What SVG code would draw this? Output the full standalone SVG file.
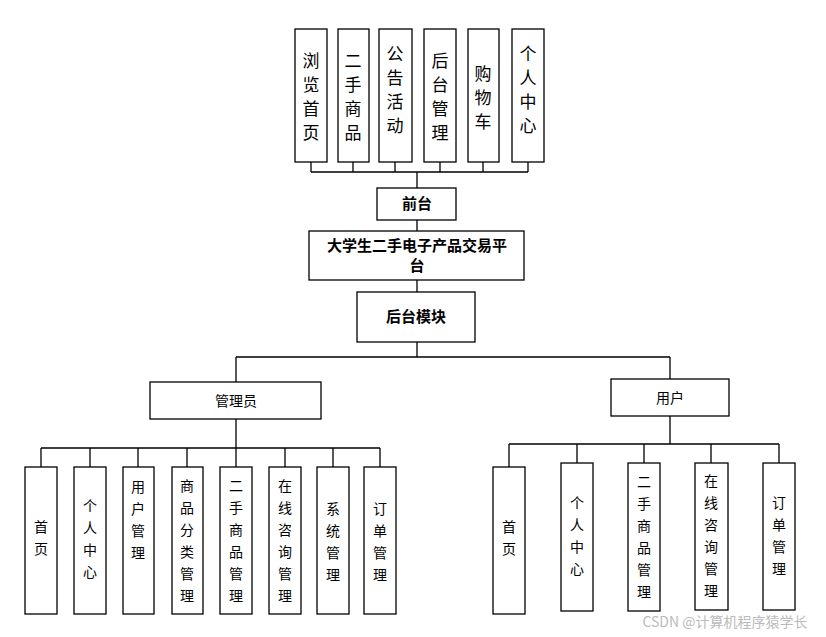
<svg xmlns="http://www.w3.org/2000/svg" width="826" height="637" viewBox="0 0 826 637">
<style>
rect{fill:#fff;stroke:#000;stroke-width:1.3}
text{font-family:"Noto Sans CJK SC","Liberation Sans",sans-serif;fill:#000;text-anchor:middle}
.t{font-size:17px}.b{font-size:15px;font-weight:bold}.s{font-size:14px}
#conn path{fill:none;stroke:#000;stroke-width:1.3}
</style>
<rect x="0" y="0" width="826" height="637" style="stroke:none"/>
<g id="conn"><path d="M311 162V172M353 162V172M395 162V172M440 162V172M483 162V172M528 162V172M311 172H528M417 172V188M417 220V231M417 280V292M417 342V357M236 357H670M236 357V382M670 357V379M236 419V448M41 448H380M41 448V467M90 448V467M138 448V467M187 448V467M236 448V467M285 448V467M333 448V467M380 448V467M670 416V444M509 444H779M509 444V467M577 444V463M644 444V463M711 444V463M779 444V463"/></g>
<g id="f1"><rect x="295" y="29" width="32" height="133"/><text class="t"><tspan x="311" y="67">浏</tspan><tspan x="311" y="91">览</tspan><tspan x="311" y="115">首</tspan><tspan x="311" y="139">页</tspan></text></g>
<g id="f2"><rect x="338" y="29" width="31" height="133"/><text class="t"><tspan x="353" y="67">二</tspan><tspan x="353" y="91">手</tspan><tspan x="353" y="115">商</tspan><tspan x="353" y="139">品</tspan></text></g>
<g id="f3"><rect x="379" y="29" width="33" height="133"/><text class="t"><tspan x="395" y="60">公</tspan><tspan x="395" y="84">告</tspan><tspan x="395" y="108">活</tspan><tspan x="395" y="132">动</tspan></text></g>
<g id="f4"><rect x="424" y="29" width="32" height="133"/><text class="t"><tspan x="440" y="67">后</tspan><tspan x="440" y="91">台</tspan><tspan x="440" y="115">管</tspan><tspan x="440" y="139">理</tspan></text></g>
<g id="f5"><rect x="468" y="29" width="31" height="133"/><text class="t"><tspan x="483" y="80">购</tspan><tspan x="483" y="104">物</tspan><tspan x="483" y="128">车</tspan></text></g>
<g id="f6"><rect x="512" y="29" width="32" height="133"/><text class="t"><tspan x="528" y="60">个</tspan><tspan x="528" y="84">人</tspan><tspan x="528" y="108">中</tspan><tspan x="528" y="132">心</tspan></text></g>
<g id="qt"><rect x="377" y="188" width="79" height="32"/><text class="b" x="417" y="209">前台</text></g>
<g id="pt"><rect x="309" y="231" width="215" height="49"/><text class="b"><tspan x="417" y="251">大学生二手电子产品交易平</tspan><tspan x="417" y="271">台</tspan></text></g>
<g id="ht"><rect x="357" y="292" width="118" height="50"/><text class="b" x="416" y="322">后台模块</text></g>
<g id="admin"><rect x="150" y="382" width="171" height="37"/><text class="s" x="236" y="406">管理员</text></g>
<g id="user"><rect x="611" y="379" width="118" height="37"/><text class="s" x="670" y="403">用户</text></g>
<g id="a1"><rect x="25" y="467" width="32" height="147"/><text class="s"><tspan x="41" y="532">首</tspan><tspan x="41" y="554">页</tspan></text></g>
<g id="a2"><rect x="74" y="467" width="32" height="147"/><text class="s"><tspan x="90" y="511">个</tspan><tspan x="90" y="533">人</tspan><tspan x="90" y="555">中</tspan><tspan x="90" y="577">心</tspan></text></g>
<g id="a3"><rect x="123" y="467" width="31" height="147"/><text class="s"><tspan x="138" y="492">用</tspan><tspan x="138" y="514">户</tspan><tspan x="138" y="536">管</tspan><tspan x="138" y="558">理</tspan></text></g>
<g id="a4"><rect x="172" y="467" width="31" height="147"/><text class="s"><tspan x="187" y="491">商</tspan><tspan x="187" y="513">品</tspan><tspan x="187" y="535">分</tspan><tspan x="187" y="557">类</tspan><tspan x="187" y="579">管</tspan><tspan x="187" y="601">理</tspan></text></g>
<g id="a5"><rect x="220" y="467" width="32" height="147"/><text class="s"><tspan x="236" y="491">二</tspan><tspan x="236" y="513">手</tspan><tspan x="236" y="535">商</tspan><tspan x="236" y="557">品</tspan><tspan x="236" y="579">管</tspan><tspan x="236" y="601">理</tspan></text></g>
<g id="a6"><rect x="269" y="467" width="32" height="147"/><text class="s"><tspan x="285" y="491">在</tspan><tspan x="285" y="513">线</tspan><tspan x="285" y="535">咨</tspan><tspan x="285" y="557">询</tspan><tspan x="285" y="579">管</tspan><tspan x="285" y="601">理</tspan></text></g>
<g id="a7"><rect x="317" y="467" width="32" height="147"/><text class="s"><tspan x="333" y="514">系</tspan><tspan x="333" y="536">统</tspan><tspan x="333" y="558">管</tspan><tspan x="333" y="580">理</tspan></text></g>
<g id="a8"><rect x="364" y="467" width="32" height="147"/><text class="s"><tspan x="380" y="514">订</tspan><tspan x="380" y="536">单</tspan><tspan x="380" y="558">管</tspan><tspan x="380" y="580">理</tspan></text></g>
<g id="u1"><rect x="493" y="467" width="32" height="147"/><text class="s"><tspan x="509" y="532">首</tspan><tspan x="509" y="554">页</tspan></text></g>
<g id="u2"><rect x="561" y="463" width="32" height="148"/><text class="s"><tspan x="577" y="508">个</tspan><tspan x="577" y="530">人</tspan><tspan x="577" y="552">中</tspan><tspan x="577" y="574">心</tspan></text></g>
<g id="u3"><rect x="628" y="463" width="32" height="148"/><text class="s"><tspan x="644" y="487">二</tspan><tspan x="644" y="509">手</tspan><tspan x="644" y="531">商</tspan><tspan x="644" y="553">品</tspan><tspan x="644" y="575">管</tspan><tspan x="644" y="597">理</tspan></text></g>
<g id="u4"><rect x="695" y="463" width="33" height="147"/><text class="s"><tspan x="711" y="486">在</tspan><tspan x="711" y="508">线</tspan><tspan x="711" y="530">咨</tspan><tspan x="711" y="552">询</tspan><tspan x="711" y="574">管</tspan><tspan x="711" y="596">理</tspan></text></g>
<g id="u5"><rect x="763" y="463" width="32" height="147"/><text class="s"><tspan x="779" y="508">订</tspan><tspan x="779" y="530">单</tspan><tspan x="779" y="552">管</tspan><tspan x="779" y="574">理</tspan></text></g>
<text x="725" y="627" style="font-size:14px;fill:#bbb">CSDN @计算机程序猿学长</text>
</svg>
